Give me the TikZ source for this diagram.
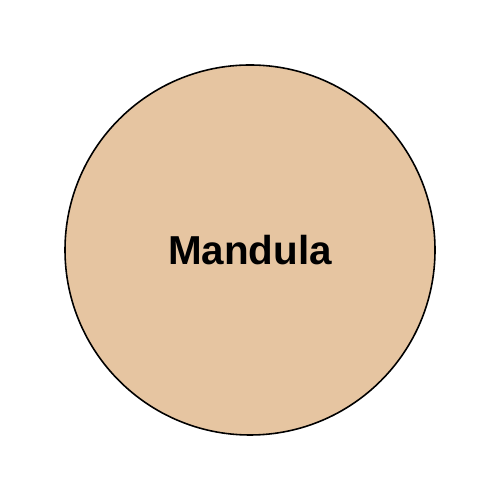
\documentclass[tikz,border=0pt]{standalone}
\usepackage{fontspec}
\setmainfont{Liberation Sans}
\definecolor{tan}{HTML}{E6C5A1}
\begin{document}
\begin{tikzpicture}
  \useasboundingbox (0,0) rectangle (10,10);
  \node[circle, draw=black, line width=0.9pt, fill=tan, minimum size=7.4cm,
    font=\fontsize{23}{27}\selectfont\bfseries] (mandula) at (5,5) {Mandula};
\end{tikzpicture}
\end{document}
